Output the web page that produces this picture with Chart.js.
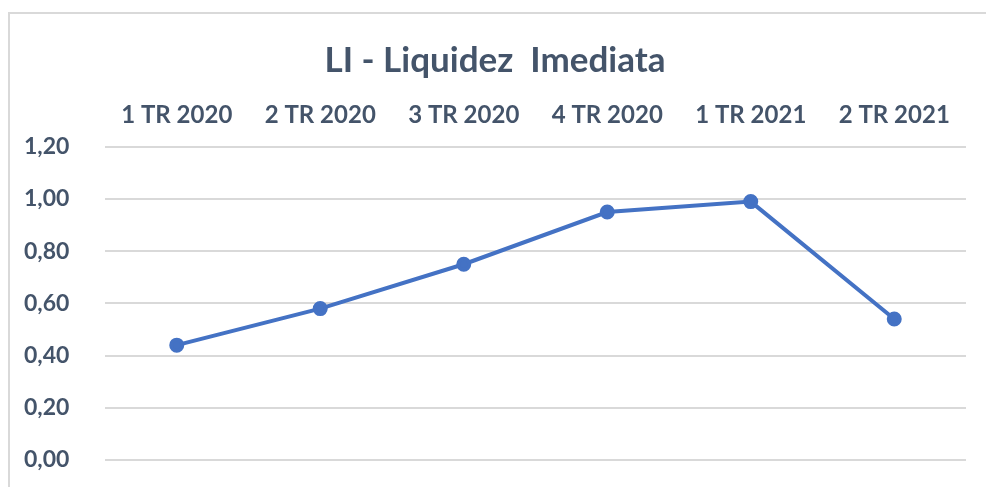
<!DOCTYPE html>
<html>
<head>
<meta charset="utf-8">
<script src="https://cdn.jsdelivr.net/npm/chart.js@4"></script>
<style>
  html, body { margin: 0; padding: 0; background: #ffffff; overflow: hidden; }
  #frame { position: absolute; left: 8px; top: 12px; width: 978px; height: 480px;
           border-left: 2px solid #d9d9d9; border-top: 2px solid #d9d9d9; }
  #wrap { position: absolute; left: 0; top: 0; width: 976px; height: 473px; }
</style>
</head>
<body>
<div id="frame"><div id="wrap"><canvas id="c"></canvas></div></div>
<script>
const titleText = "LI - Liquidez  Imediata";
const categories = ["1 TR 2020", "2 TR 2020", "3 TR 2020", "4 TR 2020", "1 TR 2021", "2 TR 2021"];
const liValues = [0.44, 0.58, 0.75, 0.95, 0.99, 0.54];
const yTicks = [0, 0.2, 0.4, 0.6, 0.8, 1.0, 1.2];

const textColor = "#44546A";
const fontFamily = "Lato, 'Open Sans', sans-serif";

new Chart(document.getElementById("c"), {
  type: "line",
  data: {
    labels: categories,
    datasets: [{
      label: "LI",
      data: liValues,
      borderColor: "#4472C4",
      backgroundColor: "#4472C4",
      borderWidth: 4,
      pointRadius: 5.5,
      pointHoverRadius: 5.5,
      pointBackgroundColor: "#4472C4",
      pointBorderColor: "#4472C4",
      tension: 0
    }]
  },
  options: {
    responsive: true,
    maintainAspectRatio: false,
    animation: false,
    layout: { padding: { left: 14, right: 20, top: 16, bottom: 27 } },
    plugins: {
      legend: { display: false },
      tooltip: { enabled: false },
      title: {
        display: true,
        text: titleText,
        color: textColor,
        font: { family: fontFamily, size: 35, weight: "bold" },
        padding: { top: 10, bottom: 2 }
      }
    },
    scales: {
      x: {
        position: "top",
        offset: true,
        grid: { display: false, drawTicks: false },
        border: { display: false },
        ticks: {
          color: textColor,
          font: { family: fontFamily, size: 24, weight: "bold" },
          padding: 17,
          maxRotation: 0
        }
      },
      y: {
        min: 0,
        max: 1.2,
        afterBuildTicks: (axis) => { axis.ticks = yTicks.map(v => ({ value: v })); },
        afterFit: (axis) => { axis.width = 81; },
        grid: { color: "#d9d9d9", lineWidth: 2, drawTicks: false },
        border: { display: false },
        ticks: {
          color: textColor,
          font: { family: fontFamily, size: 23, weight: "bold" },
          padding: 0,
          crossAlign: "far",
          callback: (v) => Number(v).toFixed(2).replace(".", ",")
        }
      }
    }
  }
});
</script>
</body>
</html>
